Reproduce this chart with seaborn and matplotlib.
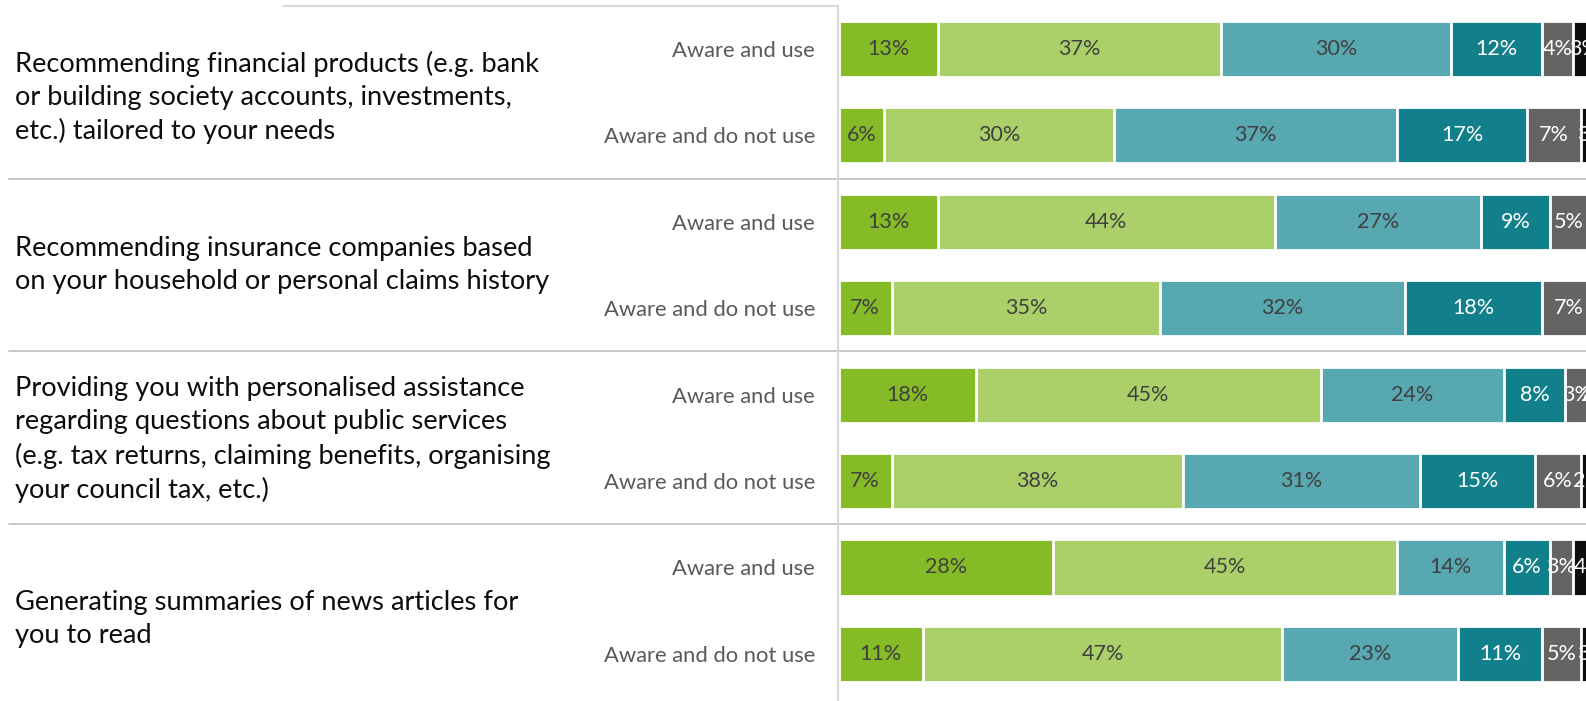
import matplotlib
matplotlib.use("Agg")
import matplotlib.pyplot as plt
import matplotlib.transforms as mtransforms
from matplotlib.lines import Line2D
import numpy as np
import pandas as pd
import seaborn as sns

# ---- data ----
groups = [
    "Recommending financial products (e.g. bank\nor building society accounts, investments,\netc.) tailored to your needs",
    "Recommending insurance companies based\non your household or personal claims history",
    "Providing you with personalised assistance\nregarding questions about public services\n(e.g. tax returns, claiming benefits, organising\nyour council tax, etc.)",
    "Generating summaries of news articles for\nyou to read",
]
row_labels = ["Aware and use", "Aware and do not use"] * 4
series_names = ["Very comfortable", "Fairly comfortable", "Neither",
                "Fairly uncomfortable", "Very uncomfortable", "Don't know"]
very_comfortable = [13, 6, 13, 7, 18, 7, 28, 11]
fairly_comfortable = [37, 30, 44, 35, 45, 38, 45, 47]
neither = [30, 37, 27, 32, 24, 31, 14, 23]
fairly_uncomfortable = [12, 17, 9, 18, 8, 15, 6, 11]
very_uncomfortable = [4, 7, 5, 7, 3, 6, 3, 5]
dont_know = [3, 3, 3, 2, 2, 2, 4, 3]

series = [very_comfortable, fairly_comfortable, neither,
          fairly_uncomfortable, very_uncomfortable, dont_know]
colors = ["#84BB26", "#ABD06A", "#57A8B0", "#12808B", "#646464", "#0D0D0D"]
text_colors = ["#404040", "#404040", "#404040", "white", "white", "white"]

sns.set_style("white")
plt.rcParams["font.family"] = ["Lato", "DejaVu Sans"]

W, H = 1586, 701
fig = plt.figure(figsize=(W / 100, H / 100), dpi=100)
ax_left = 838.5 / W
ax = fig.add_axes([ax_left, 0, 1 - ax_left, 1])

row_ids = [f"r{i}" for i in range(len(row_labels))]
vals = np.array(series, dtype=float)
cum = np.cumsum(vals, axis=0)

# stacked bars drawn as overlaid cumulative bars (longest first)
for k in range(len(series) - 1, -1, -1):
    df = pd.DataFrame({"row": row_ids, "value": cum[k]})
    sns.barplot(data=df, x="value", y="row", orient="h", color=colors[k],
                width=0.65, edgecolor="white", linewidth=2, ax=ax,
                saturation=1, errorbar=None)

# segment labels
for k in range(len(series)):
    for i in range(len(row_ids)):
        v = vals[k, i]
        start = cum[k, i] - v
        ax.text(start + v / 2, i, f"{int(v)}%", ha="center", va="center",
                fontsize=15.5, color=text_colors[k])

ax.set_xlim(0, 97.7)
ax.set_ylim(7.546, -0.567)
ax.set_xticks([])
ax.set_xlabel("")
ax.set_ylabel("")
ax.set_yticks(range(len(row_ids)))
ax.set_yticklabels(row_labels, fontsize=15.8, color="#595959")
ax.tick_params(axis="y", length=0, pad=17)
for s in ax.spines.values():
    s.set_visible(False)

# group labels
blend = mtransforms.blended_transform_factory(fig.transFigure, ax.transData)
group_y = [0.56, 0.5, 0.52, 0.6]
for g, label in enumerate(groups):
    fig.text(15 / W, 2 * g + group_y[g], label, transform=blend, ha="left",
             va="center", fontsize=19.6, color="#0D0D0D", linespacing=1.4)

# separators between groups
for yv in [1.5, 3.5, 5.5]:
    fig.add_artist(Line2D([9 / W, 1.0], [yv, yv], transform=blend,
                          color="#C4C4C4", lw=1.3))

# frame lines
fig.add_artist(Line2D([838 / W, 838 / W], [0, 1 - 6 / H],
                      transform=fig.transFigure, color="#D9D9D9", lw=1.5))
fig.add_artist(Line2D([283 / W, 838 / W], [1 - 6 / H, 1 - 6 / H],
                      transform=fig.transFigure, color="#D9D9D9", lw=1.5))

fig.savefig("out.png", dpi=100)
